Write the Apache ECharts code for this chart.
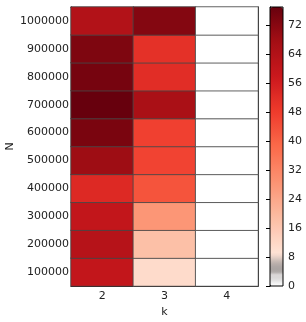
<!DOCTYPE html>
<html><head><meta charset="utf-8">
<script src="https://cdn.jsdelivr.net/npm/echarts@6/dist/echarts.min.js"></script>
<style>html,body{margin:0;padding:0;background:#fff}#c{width:306px;height:322px}</style>
</head><body><div id="c"></div>
<script>
var kCats = ['2', '3', '4'];
var nCats = ['100000','200000','300000','400000','500000','600000','700000','800000','900000','1000000'];
// values per N row (bottom to top), columns k=2,3,4
var valsK2 = [60, 63, 60, 53, 68.5, 74, 77, 74.7, 73.5, 64];
var valsK3 = [11, 18, 28, 43, 46.5, 47, 66, 52, 51, 72.5];
var valsK4 = [0, 0, 0, 0, 0, 0, 0, 0, 0, 0];
var cbTicks = [0, 8, 16, 24, 32, 40, 48, 56, 64, 72];
var cMin = 0, cMax = 77;

var data = [];
[valsK2, valsK3, valsK4].forEach(function(col, ci){
  col.forEach(function(v, ri){ data.push([ci, ri, v]); });
});

// colormap: matplotlib Reds with grey band at low end
var reds = ['#fff5f0','#fee0d2','#fcbba1','#fc9272','#fb6a4a','#ef3b2c','#cb181d','#a50f15','#67000d'];
function hex(h){return [parseInt(h.substr(1,2),16),parseInt(h.substr(3,2),16),parseInt(h.substr(5,2),16)];}
function redsAt(t){
  var p = t*8, i = Math.min(7, Math.floor(p)), f = p - i;
  var a = hex(reds[i]), b = hex(reds[i+1]);
  return 'rgb(' + a.map(function(x,j){return Math.round(x + (b[j]-x)*f);}).join(',') + ')';
}
var low = ['#ffffff','#f0f0f0','#d8d6d6','#dedcdc','#a9a3a1','#aba4a2','#b6aca9','#ccbdb7','#e9d2c8'];
var stops = [];
for (var v = 0; v <= 77; v++) {
  stops.push(v < low.length ? low[v] : redsAt(v / 77));
}

var chart = echarts.init(document.getElementById('c'));
var font = 'DejaVu Sans';
chart.setOption({
  animation: false,
  textStyle: {fontFamily: font},
  grid: [
    {left: 71, top: 7, width: 187, height: 279, show: false, containLabel: false, outerBoundsMode: 'none'},
    {left: 270, top: 7, width: 13, height: 279, show: true, borderColor: '#000', borderWidth: 1, backgroundColor: 'transparent', z: 10, containLabel: false, outerBoundsMode: 'none'}
  ],
  xAxis: [
    {type: 'category', gridIndex: 0, data: kCats, name: 'k', nameLocation: 'middle', nameGap: 21, nameMoveOverlap: false,
     nameTextStyle: {color: '#222', fontSize: 11, fontFamily: font},
     axisLine: {lineStyle: {color: '#000', width: 1}},
     axisTick: {inside: true, alignWithLabel: true, length: 4, lineStyle: {color: '#000'}},
     axisLabel: {color: '#222', fontSize: 11, fontFamily: font, margin: 5},
     splitLine: {show: false}},
    {type: 'category', gridIndex: 0, data: kCats, position: 'top',
     axisLine: {lineStyle: {color: '#000', width: 1}},
     axisTick: {inside: true, alignWithLabel: true, length: 4, lineStyle: {color: '#000'}},
     axisLabel: {show: false}},
    {type: 'value', gridIndex: 1, show: false, min: 0, max: 1}
  ],
  yAxis: [
    {type: 'category', gridIndex: 0, data: nCats, name: 'N', nameLocation: 'middle', nameGap: 55, nameMoveOverlap: false,
     nameTextStyle: {color: '#222', fontSize: 11, fontFamily: font},
     axisLine: {lineStyle: {color: '#000', width: 1}},
     axisTick: {inside: true, alignWithLabel: true, length: 4, lineStyle: {color: '#000'}},
     axisLabel: {color: '#222', fontSize: 11, fontFamily: font, margin: 2},
     splitLine: {show: false}},
    {type: 'category', gridIndex: 0, data: nCats, position: 'right',
     axisLine: {lineStyle: {color: '#000', width: 1}},
     axisTick: {inside: true, alignWithLabel: true, length: 4, lineStyle: {color: '#000'}},
     axisLabel: {show: false}},
    {type: 'value', gridIndex: 1, min: cMin, max: cMax, interval: 8, position: 'right',
     axisLine: {show: true, lineStyle: {color: '#000'}},
     axisTick: {show: true, inside: true, length: 4, lineStyle: {color: '#000'}},
     axisLabel: {color: '#222', fontSize: 11, fontFamily: font, margin: 5, showMaxLabel: false,
       formatter: function(v){ return cbTicks.indexOf(v) >= 0 ? String(v) : ''; }},
     splitLine: {show: false}}
  ],
  visualMap: {
    type: 'continuous', min: cMin, max: cMax, seriesIndex: 0, calculable: false,
    show: true, orient: 'vertical', left: 270, top: 7, padding: 0,
    itemWidth: 13, itemHeight: 279, text: ['', ''], showLabel: false,
    textStyle: {fontSize: 0},
    inRange: {color: stops}
  },
  series: [{
    type: 'heatmap', xAxisIndex: 0, yAxisIndex: 0, data: data,
    itemStyle: {borderColor: 'rgba(70,70,70,0.85)', borderWidth: 1},
    emphasis: {disabled: true}
  }]
});
</script></body></html>
